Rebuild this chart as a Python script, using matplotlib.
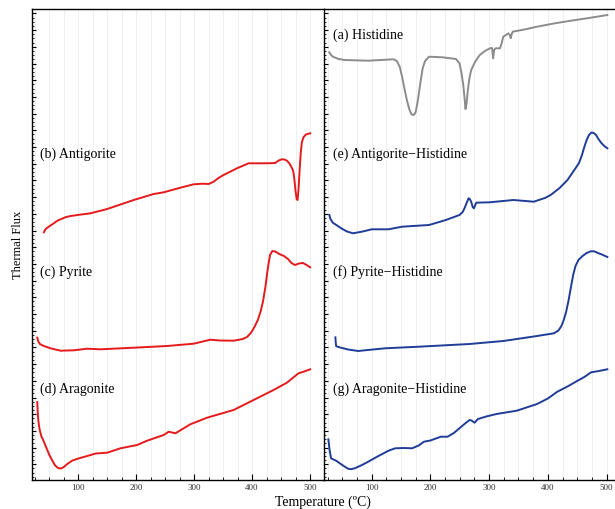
import matplotlib
matplotlib.use("Agg")
import matplotlib.pyplot as plt
from matplotlib.ticker import MultipleLocator, AutoMinorLocator, NullFormatter

plt.rcParams['font.family'] = ['Liberation Serif', 'DejaVu Serif']

# ---------------- data (Temperature in ºC, thermal flux in arbitrary units) -----
# Left panel: minerals
antig_T = [40.5, 43, 46.3, 52, 57.7, 63, 69.3, 78, 86.5, 105, 121, 149.8, 195.7,
           230.1, 247.4, 276.2, 299.1, 315, 325, 333.6, 342, 350.8, 373.9, 393.9,
           414.1, 430, 439.9, 446, 451.5, 456, 460.1, 464, 468, 471, 473, 475,
           477, 478.5, 480, 482, 484, 486, 489, 493, 500.3]
antig_y = [248.7, 251.5, 253.3, 255.5, 257.7, 260, 261.7, 263.8, 265, 266.5, 267.7,
           272, 281, 287, 288.7, 293.3, 296.7, 297.3, 297, 299.3, 303, 306, 312.7,
           317.7, 317.7, 317.8, 318, 320.5, 321.7, 321.5, 320.3, 318, 314, 310,
           302, 290, 282, 281, 290, 310, 328, 339, 344, 346.5, 347.7]

pyr_T = [29.1, 31, 33.6, 40.5, 52, 69.3, 92.2, 115.3, 138.2, 195.7, 253.2, 299.1,
         315, 327.9, 345, 368.1, 384, 391.2, 398, 404, 410, 415, 419, 423, 427,
         431, 435, 440, 447, 455, 462, 468, 474, 481, 488, 494, 500.3]
pyr_y = [143.3, 139.5, 137, 135, 132.7, 130.3, 130.7, 132.3, 131.7, 133.3, 135,
         137.3, 139.5, 141.3, 140.5, 140.3, 142, 144, 148, 154, 161, 170, 180, 194,
         212, 226, 230, 229.5, 227, 225, 222, 218, 216, 217.5, 218, 216, 213.7]

arag_T = [29.1, 30, 31, 33, 36, 40, 45, 50, 55, 60, 65, 70, 75, 82, 90, 100,
          115.3, 130, 149.8, 172.7, 201.5, 218.8, 247.4, 256, 267.6, 293.4,
          322.2, 368.1, 402.6, 437.1, 460.1, 480.1, 490, 500.3]
arag_y = [79, 68, 60, 52, 45, 40, 33, 26, 20.5, 15.5, 13, 12.5, 14, 17.5, 20.5,
          22.5, 25, 27.5, 28.3, 32.7, 36, 40.3, 46, 49.3, 47.7, 56.7, 63.3, 71,
          81, 91, 98.3, 107.7, 109.5, 111.7]

# Right panel: histidine and mineral-histidine mixtures
hist_T = [28.1, 31, 34, 44, 54, 94.3, 137.4, 143, 148, 152, 156, 160, 164, 168,
          172, 175, 178, 181, 184, 187, 191, 197.7, 220.7, 243.6, 249.5, 253,
          256, 258, 259.8, 261.5, 263.8, 266.5, 269.5, 276, 284, 293, 301.2,
          305, 306.9, 308.5, 311, 318.5, 321, 324.1, 332.8, 335, 336.8, 338.5,
          340.2, 360, 381.6, 410, 439.2, 470, 501.2]
hist_y = [428.7, 426, 424.3, 422, 421, 420.3, 421.7, 420, 414, 404, 392, 381,
          372, 366.5, 366, 369, 378, 390, 402, 413, 420, 424.3, 423.7, 422,
          417.7, 408, 396, 384, 372, 377, 391, 403, 411, 419, 426, 430, 432.7,
          433, 422.7, 431, 432.7, 432.7, 437, 444.3, 447.7, 446, 442.7, 447,
          449.3, 451.5, 454.3, 457.5, 460.3, 463, 466]

aghi_T = [28.1, 30, 34, 40, 48.3, 58, 68.4, 85, 100, 128.8, 151.7, 197.7, 226.4,
          249.5, 255, 258.1, 261, 265, 267, 269.5, 272, 274.1, 278.1, 301.2,
          341.4, 375.9, 395, 404.7, 420, 433.3, 445, 453, 458, 462, 466, 470,
          474, 478, 482, 486, 491, 496, 501.2]
aghi_y = [266, 262, 258.3, 256, 252.7, 249.5, 247.7, 249.5, 251.7, 251.7, 254.3,
          256, 261, 266, 269, 272.7, 277, 282.7, 282, 279.3, 274, 272.7, 278.3,
          278.7, 281, 279.3, 283, 286, 293, 301, 311, 318, 326, 334, 341, 346,
          348.5, 348, 346, 342, 338, 335, 332.7]

pyhi_T = [38.4, 38.9, 39.6, 42, 45.3, 60, 77, 122.9, 180.5, 266.7, 324.1, 381.6,
          410.3, 418, 423, 427, 431, 435, 439, 443, 447, 452, 459, 466, 473,
          479, 485, 492, 501.2]
pyhi_y = [143.7, 139, 135, 134.3, 133.7, 131.5, 130, 132.7, 134.3, 137, 140, 145,
          147.7, 150.5, 155, 161, 169, 180, 193, 206, 215, 221, 225, 228, 229.7,
          229.7, 228, 226.5, 224]

arhi_T = [26.4, 28.5, 31, 35, 39.6, 50, 59.8, 65, 71.2, 82, 94.3, 110, 128.8,
          140.2, 155, 169, 180, 189.1, 200, 217.8, 229.3, 240, 249.5, 258,
          266.7, 270, 275.3, 281, 295, 312.6, 347, 381.6, 400, 416.1, 435,
          450.6, 462, 473.6, 485, 501.2]
arhi_y = [41.7, 31, 22.7, 21.5, 20.3, 16, 12.3, 11.8, 12.7, 15.5, 19.3, 24.5,
          30.3, 32.7, 33, 32.7, 35.5, 39.3, 40.5, 44.3, 44.3, 48, 52.7, 57,
          61, 60.5, 58.3, 62, 64.5, 67, 70.3, 77, 82.5, 89.3, 95, 100.3, 104,
          108.7, 109.8, 111.7]

left_labels = ["(b) Antigorite", "(c) Pyrite", "(d) Aragonite"]
right_labels = ["(a) Histidine", "(e) Antigorite\u2212Histidine",
                "(f) Pyrite\u2212Histidine", "(g) Aragonite\u2212Histidine"]
xticks = [100, 200, 300, 400, 500]

RED = "#e41a1c"
BLUE = "#1f3c96"
GREY = "#8c8c8c"

fig = plt.figure(figsize=(6.15, 5.09), dpi=100)
bottom = 1 - 480 / 509
top = 1 - 9 / 509
axL = fig.add_axes([31.7 / 615, bottom, (324.3 - 31.7) / 615, top - bottom])
axR = fig.add_axes([324.3 / 615, bottom, (615 - 324.3) / 615 + 0.01, top - bottom])

for ax in (axL, axR):
    ax.set_xlim(19.5, 524.7)
    ax.set_ylim(1, 472)
    ax.set_xticks(xticks)
    ax.set_xticklabels([str(t) for t in xticks])
    ax.xaxis.set_minor_locator(MultipleLocator(25))
    ax.yaxis.set_major_locator(MultipleLocator(16.7))
    ax.yaxis.set_minor_locator(AutoMinorLocator(4))
    ax.yaxis.set_major_formatter(NullFormatter())
    ax.grid(True, which='both', axis='x', color='#f0f0f0', lw=0.8, zorder=0)
    ax.tick_params(axis='x', which='major', direction='in', length=4, width=0.8,
                   labelsize=6.5, pad=3, bottom=True, top=False, labelcolor='#333333')
    ax.tick_params(axis='x', which='minor', direction='in', length=2, width=0.6,
                   bottom=True, top=False)
    ax.tick_params(axis='y', which='major', direction='in', length=3, width=0.8,
                   left=True, right=False)
    ax.tick_params(axis='y', which='minor', direction='in', length=1.5, width=0.6,
                   left=True, right=False)
    for s in ax.spines.values():
        s.set_linewidth(1.0)
    ax.set_axisbelow(True)

axL.spines['right'].set_visible(False)
axR.spines['right'].set_visible(False)

lw = 1.4
axL.plot(antig_T, antig_y, color=RED, lw=lw)
axL.plot(pyr_T, pyr_y, color=RED, lw=lw)
axL.plot(arag_T, arag_y, color=RED, lw=lw)

axR.plot(hist_T, hist_y, color=GREY, lw=lw)
axR.plot(aghi_T, aghi_y, color=BLUE, lw=lw)
axR.plot(pyhi_T, pyhi_y, color=BLUE, lw=lw)
axR.plot(arhi_T, arhi_y, color=BLUE, lw=lw)

fs = 10
label_y = [481 - 154, 481 - 272, 481 - 389]
for lab, yy in zip(left_labels, label_y):
    axL.text(33.5, yy, lab, fontsize=fs, va='center', ha='left')
rlabel_y = [481 - 35] + label_y
for lab, yy in zip(right_labels, rlabel_y):
    axR.text(34.5, yy, lab, fontsize=fs, va='center', ha='left')

fig.text(323 / 615, 1 - 502 / 509, "Temperature (\u00baC)", fontsize=10,
         ha='center', va='center')
fig.text(18 / 615, 1 - 245 / 509, "Thermal Flux", fontsize=9,
         rotation=90, ha='center', va='center')

fig.savefig("out.png", dpi=100)
